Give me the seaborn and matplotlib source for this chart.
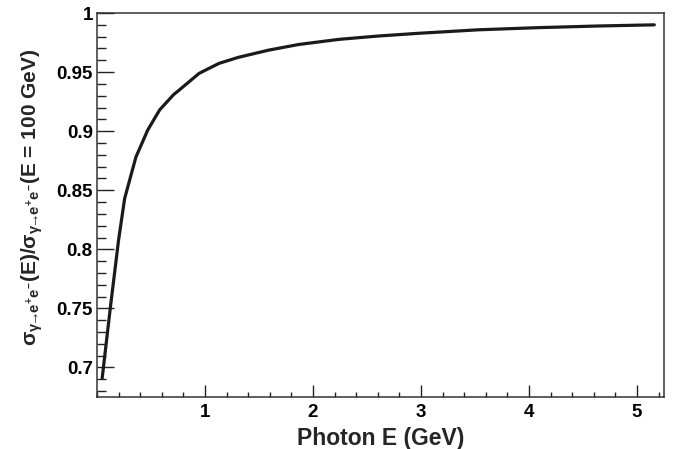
import numpy as np
import pandas as pd
import matplotlib
matplotlib.use("Agg")
import matplotlib.pyplot as plt
import seaborn as sns
from matplotlib.ticker import MultipleLocator, FormatStrFormatter

# values
photon_e = [0.048, 0.124, 0.20, 0.256, 0.36, 0.47, 0.58, 0.71, 0.76, 0.945,
            1.13, 1.31, 1.59, 1.87, 2.24, 2.60, 2.97, 3.53, 4.08, 4.63, 5.16]
xsec_ratio = [0.691, 0.751, 0.808, 0.843, 0.878, 0.901, 0.918, 0.931, 0.9347,
              0.9489, 0.9574, 0.9625, 0.9686, 0.9734, 0.9777, 0.9805, 0.9828,
              0.9858, 0.9876, 0.9890, 0.990]

df = pd.DataFrame({"E": photon_e, "ratio": xsec_ratio})

sns.set_style("ticks")
plt.rcParams["font.family"] = ["Liberation Sans", "DejaVu Sans"]
plt.rcParams["font.weight"] = "bold"
plt.rcParams["mathtext.fontset"] = "custom"
plt.rcParams["mathtext.rm"] = "Liberation Sans:bold"
plt.rcParams["mathtext.it"] = "Liberation Sans:bold"
plt.rcParams["mathtext.bf"] = "Liberation Sans:bold"
plt.rcParams["mathtext.sf"] = "Liberation Sans:bold"

fig = plt.figure(figsize=(6.75, 4.49), dpi=100)
ax = fig.add_axes([0.1437, 0.1158, 0.8400, 0.8552])

sns.lineplot(data=df, x="E", y="ratio", ax=ax, color="#1a1a1a", linewidth=2.3)

ax.set_xlim(0.0, 5.25)
ax.set_ylim(0.675, 1.0)

ax.xaxis.set_major_locator(MultipleLocator(1))
ax.xaxis.set_minor_locator(MultipleLocator(0.2))
ax.yaxis.set_major_locator(MultipleLocator(0.05))
ax.yaxis.set_minor_locator(MultipleLocator(0.01))
ax.xaxis.set_major_formatter(FormatStrFormatter("%g"))
ax.yaxis.set_major_formatter(FormatStrFormatter("%g"))
ax.set_xticks([1, 2, 3, 4, 5])

ax.tick_params(axis="both", which="both", direction="in", top=False, right=False,
               colors="#222222", labelsize=13.5, width=1.0)
ax.tick_params(axis="y", which="major", length=12, pad=3)
ax.tick_params(axis="y", which="minor", length=6.5)
ax.tick_params(axis="x", which="major", length=8.5, pad=5)
ax.tick_params(axis="x", which="minor", length=3.8)
for lab in ax.get_xticklabels() + ax.get_yticklabels():
    lab.set_fontweight("bold")
    lab.set_color("black")

for sp in ax.spines.values():
    sp.set_visible(True)
    sp.set_linewidth(1.1)
    sp.set_color("#333333")

ax.set_xlabel("Photon E (GeV)", fontsize=16.5, fontweight="bold", labelpad=4)
sub = r"_{\gamma\!\!\rightarrow\!\!e^{+}e^{-}}"
ax.set_ylabel(r"$\sigma" + sub + r"$(E)/$\sigma" + sub + r"$(E = 100 GeV)",
              fontsize=15, fontweight="bold")
ax.yaxis.set_label_coords(-0.092, 0.52)

fig.savefig("out.png", dpi=100)
